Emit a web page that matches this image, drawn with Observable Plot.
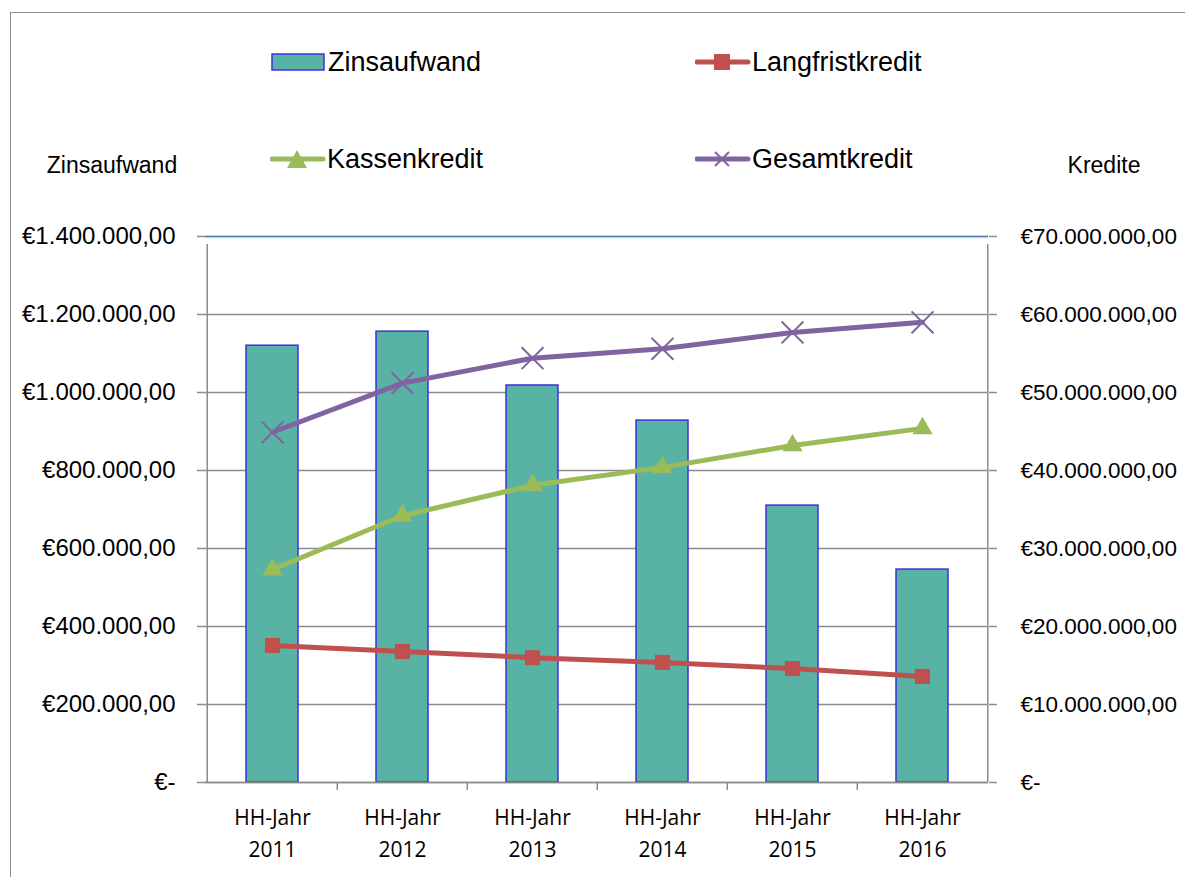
<!DOCTYPE html>
<html><head><meta charset="utf-8">
<script src="https://cdn.jsdelivr.net/npm/d3@7"></script>
<script src="https://cdn.jsdelivr.net/npm/@observablehq/plot@0.6"></script>
<style>
body{margin:0;background:#fff;}
#wrap{position:relative;width:1185px;height:877px;overflow:hidden;font-family:"Liberation Sans",Arial,sans-serif;color:#000;}
#border{position:absolute;left:10px;top:12px;width:1300px;height:1000px;border:1.5px solid #8c8c8c;box-sizing:border-box;}
#chart{position:absolute;left:0;top:0;}
.leg{position:absolute;height:40px;display:flex;align-items:center;font-size:27px;white-space:nowrap;}
.leg svg{display:block;margin-right:1px;}
.title{position:absolute;font-size:23px;transform:translate(-50%,-50%);white-space:nowrap;}
</style></head>
<body>
<div id="wrap">
  <div id="border"></div>
  <div id="chart"></div>
  <div class="title" style="left:112px;top:165px;">Zinsaufwand</div>
  <div class="title" style="left:1104px;top:165px;">Kredite</div>
  <div id="legend"></div>
</div>
<script>
const years = ["2011","2012","2013","2014","2015","2016"];
const zinsaufwand = [1120000,1156000,1018000,928000,710000,546000];
const langfristkredit = [17560000,16800000,16000000,15400000,14600000,13600000];
const kassenkredit = [27300000,34200000,38100000,40400000,43200000,45400000];
const gesamtkredit = [44900000,51200000,54400000,55600000,57700000,59000000];
const leftTicks = [0,200000,400000,600000,800000,1000000,1200000,1400000];
const rightTicks = [0,10000000,20000000,30000000,40000000,50000000,60000000,70000000];
const xLabelPrefix = "HH-Jahr";
const RATIO = rightTicks[rightTicks.length-1] / leftTicks[leftTicks.length-1];

const COL = {bar:"#58b3a5", barStroke:"#3d2fe0", lang:"#c0504d", kass:"#9bbb59", ges:"#8064a2", grid:"#8c8c8c", top:"#4f81bd"};

const loc = d3.formatLocale({decimal:",", thousands:".", grouping:[3], currency:["€",""]});
const f = loc.format("$,.2f");
const eur = v => v === 0 ? "€-" : f(v);

const bars = years.map((y,i)=>({year:y, value:zinsaufwand[i]}));
const series = [
  {name:"Langfristkredit", vals:langfristkredit, color:COL.lang, symbol:"square", r:8.5, fill:true},
  {name:"Kassenkredit", vals:kassenkredit, color:COL.kass, symbol:"triangle", r:7.5, fill:true},
  {name:"Gesamtkredit", vals:gesamtkredit, color:COL.ges, symbol:"times", r:10, fill:false}
];
const lineMarks = [];
for (const s of series) {
  const d = years.map((y,i)=>({year:y, value:s.vals[i]/RATIO}));
  lineMarks.push(Plot.lineY(d, {x:"year", y:"value", stroke:s.color, strokeWidth:5}));
}
for (const s of series) {
  const d = years.map((y,i)=>({year:y, value:s.vals[i]/RATIO}));
  lineMarks.push(s.fill
    ? Plot.dot(d, {x:"year", y:"value", symbol:s.symbol, r:s.r, fill:s.color, stroke:"none"})
    : Plot.dot(d, {x:"year", y:"value", symbol:s.symbol, r:s.r, stroke:s.color, strokeWidth:2, fill:"none"}));
}

const halfStep = 65.25;
const chart = Plot.plot({
  width: 1185, height: 877,
  marginLeft: 205, marginRight: 197, marginTop: 236, marginBottom: 95,
  x: {domain: years, paddingInner: 0.6, paddingOuter: 0.3, label: null},
  y: {domain: [0, leftTicks[leftTicks.length-1]], label: null},
  style: {fontFamily: '"Liberation Sans", Arial, sans-serif', fontSize: "24px", color: "#000", background: "transparent", overflow: "visible"},
  marks: [
    Plot.gridY(leftTicks, {stroke: COL.grid, strokeOpacity: 1, strokeWidth: 1.5}),
    Plot.ruleY([leftTicks[leftTicks.length-1]], {stroke: COL.top, strokeWidth: 1.5}),
    Plot.barY(bars, {x:"year", y:"value", fill: COL.bar, stroke: COL.barStroke, strokeWidth: 1.5}),
    Plot.ruleY([0], {stroke: COL.grid, strokeWidth: 1.5}),
    Plot.ruleX(years, {x: d=>d, y1: 0, y2: leftTicks[leftTicks.length-1], dx: -halfStep, filter: (d,i)=>i===0, stroke: COL.grid, strokeWidth: 1.5, insetBottom: -8}),
    Plot.ruleX(years, {x: d=>d, y1: 0, y2: 0, dx: -halfStep, filter: (d,i)=>i>0, stroke: COL.grid, strokeWidth: 1.5, insetBottom: -8}),
    Plot.ruleX(years.slice(-1), {x: d=>d, y1: 0, y2: leftTicks[leftTicks.length-1], dx: halfStep, stroke: COL.grid, strokeWidth: 1.5, insetBottom: -8}),
    Plot.axisY(leftTicks, {anchor:"left", tickSize: 8, tickPadding: 22, tickFormat: eur, stroke: COL.grid, strokeWidth: 1.5, fill: "#000", fontSize: 24}),
    Plot.axisY(rightTicks.map(v=>v/RATIO), {anchor:"right", tickSize: 8, tickPadding: 24, tickFormat: d=>eur(d*RATIO), stroke: COL.grid, strokeWidth: 1.5, fill: "#000", fontSize: 22.5}),
    Plot.axisX({tickSize: 0, tickPadding: 20, tickFormat: d=> xLabelPrefix + "\n" + d, fontFamily: '"Open Sans", sans-serif', fontSize: 21, lineHeight: 1.52, fill: "#000"}),
    ...lineMarks
  ]
});
document.getElementById("chart").appendChild(chart);

// Legend
const legendItems = [
  {name:"Zinsaufwand", type:"bar", left:271, cy:62},
  {name:series[0].name, type:"line", color:series[0].color, marker:"square", left:695, cy:62},
  {name:series[1].name, type:"line", color:series[1].color, marker:"triangle", left:270, cy:159},
  {name:series[2].name, type:"line", color:series[2].color, marker:"times", left:695, cy:159}
];
const legend = document.getElementById("legend");
for (const it of legendItems) {
  const div = document.createElement("div");
  div.className = "leg";
  div.style.left = it.left + "px";
  div.style.top = (it.cy - 20) + "px";
  let svg;
  if (it.type === "bar") {
    svg = `<svg width="56" height="40"><rect x="1" y="12" width="52" height="16" fill="${COL.bar}" stroke="${COL.barStroke}" stroke-width="1.5"/></svg>`;
  } else {
    let m = "";
    if (it.marker === "square") m = `<rect x="19" y="12" width="16" height="16" fill="${it.color}"/>`;
    if (it.marker === "triangle") m = `<path d="M27,11 L37,29 L17,29 Z" fill="${it.color}"/>`;
    if (it.marker === "times") m = `<path d="M20,13 L34,27 M34,13 L20,27" stroke="${it.color}" stroke-width="2"/>`;
    svg = `<svg width="56" height="40"><line x1="2" y1="20" x2="53" y2="20" stroke="${it.color}" stroke-width="5" stroke-linecap="round"/>${m}</svg>`;
  }
  div.innerHTML = svg + `<span>${it.name}</span>`;
  legend.appendChild(div);
}
</script>
</body></html>
